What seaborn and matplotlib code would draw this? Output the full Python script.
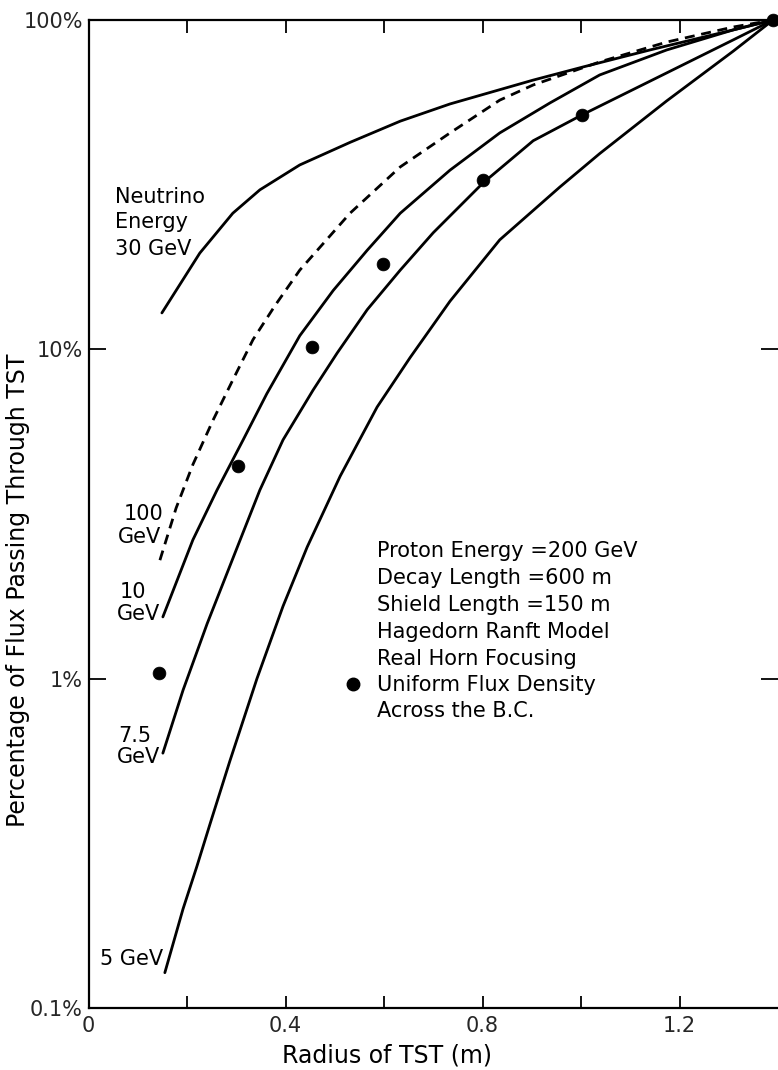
import matplotlib
matplotlib.use("Agg")
import matplotlib.pyplot as plt
import matplotlib.ticker as mticker
import numpy as np
import pandas as pd
import seaborn as sns

# ---------------- data ----------------
# x: radius of TST (m), y: percentage of flux passing through TST (%)
x_30 = [0.149, 0.226, 0.293, 0.348, 0.429, 0.531, 0.633, 0.734, 0.903, 1.004, 1.140, 1.309, 1.39]
y_30 = [12.9, 19.6, 25.9, 30.5, 36.3, 42.5, 49.3, 55.6, 65.7, 72.0, 81.1, 93.3, 100]

x_100 = [0.145, 0.178, 0.212, 0.253, 0.293, 0.334, 0.379, 0.429, 0.531, 0.633, 0.734,
         0.835, 0.903, 1.038, 1.174, 1.309, 1.39]
y_100 = [2.29, 3.30, 4.47, 6.10, 8.07, 10.7, 13.6, 17.4, 25.9, 35.8, 45.4,
         57.1, 63.5, 74.6, 85.7, 95.2, 100]

x_10 = [0.151, 0.212, 0.261, 0.314, 0.362, 0.429, 0.497, 0.566, 0.633, 0.734, 0.835, 0.937,
        1.038, 1.174, 1.309, 1.39]
y_10 = [1.54, 2.64, 3.74, 5.31, 7.33, 11.0, 15.1, 20.0, 25.9, 35.0, 45.4, 56.0,
        68.1, 81.1, 93.3, 100]

x_75 = [0.151, 0.192, 0.241, 0.308, 0.348, 0.395, 0.456, 0.505, 0.566, 0.633, 0.700, 0.801,
        0.903, 1.002, 1.175, 1.309, 1.39]
y_75 = [0.594, 0.923, 1.47, 2.64, 3.74, 5.31, 7.52, 9.75, 13.2, 17.4, 22.6, 32.0,
        43.0, 51.5, 69.2, 87.0, 100]

x_5 = [0.155, 0.192, 0.220, 0.247, 0.287, 0.342, 0.395, 0.444, 0.511, 0.586, 0.653, 0.734,
       0.835, 0.957, 1.038, 1.174, 1.309, 1.39]
y_5 = [0.128, 0.200, 0.269, 0.363, 0.562, 1.00, 1.66, 2.51, 4.12, 6.68, 9.44, 14.0,
       21.5, 31.1, 39.3, 56.8, 80.4, 100]

x_dots = [0.143, 0.304, 0.454, 0.598, 0.801, 1.002, 1.39]
y_dots = [1.04, 4.42, 10.2, 18.2, 32.7, 51.5, 100]

x_tick_pos = [0, 0.2, 0.4, 0.6, 0.8, 1.0, 1.2]
x_tick_lab = ["0", "", "0.4", "", "0.8", "", "1.2"]
y_tick_pos = [0.1, 1, 10, 100]
y_tick_lab = ["0.1%", "1%", "10%", "100%"]

notes = ["Proton Energy =200 GeV", "Decay Length =600 m", "Shield Length =150 m",
         "Hagedorn Ranft Model", "Real Horn Focusing", "Uniform Flux Density",
         "Across the B.C."]

# ---------------- style ----------------
sns.set_theme(style="white")
plt.rcParams["font.family"] = ["DejaVu Sans"]
plt.rcParams["axes.edgecolor"] = "black"

W, H = 778, 1070
fig = plt.figure(figsize=(W / 100, H / 100), dpi=100)
L, R, T, B = 88.5, 778.0, 20.0, 1008.0
ax = fig.add_axes([L / W, 1 - B / H, (R - L) / W, (B - T) / H])

def ax_frac(px, py):
    return (px - L) / (R - L), (B - py) / (B - T)

FS = 15
LW = 2.0

for xs, ys in [(x_30, y_30), (x_10, y_10), (x_75, y_75), (x_5, y_5)]:
    sns.lineplot(x=xs, y=ys, ax=ax, color="black", lw=LW, sort=False,
                 estimator=None, legend=False)

sns.lineplot(x=x_100, y=y_100, ax=ax, color="black", lw=LW, sort=False,
             estimator=None, legend=False)
ax.lines[-1].set_dashes([3.6, 2.4])

sns.scatterplot(x=x_dots, y=y_dots, ax=ax, color="black", s=85, edgecolor="black",
                linewidth=0.5, legend=False, zorder=5, clip_on=False)

ax.set_yscale("log")
ax.set_xlim(0, 1.4)
ax.set_ylim(0.1, 100)

ax.set_xticks(x_tick_pos)
ax.set_xticklabels(x_tick_lab)
ax.set_yticks(y_tick_pos)
ax.set_yticklabels(y_tick_lab)
ax.yaxis.set_minor_locator(mticker.NullLocator())
ax.xaxis.set_minor_locator(mticker.NullLocator())

ax.tick_params(axis="x", which="major", direction="in", top=True, bottom=True,
               length=9, width=1.3, color="black", labelsize=FS, pad=6)
ax.tick_params(axis="y", which="major", direction="in", left=True, right=True,
               length=12, width=1.3, color="black", labelsize=FS, pad=4)
for s in ["left", "bottom", "top"]:
    ax.spines[s].set_linewidth(1.6)
    ax.spines[s].set_color("black")
ax.spines["right"].set_visible(False)
ax.set_xlabel("")
ax.set_ylabel("")
ax.grid(False)

# curve labels
def label(px, py, s, ha="left"):
    fx, fy = ax_frac(px, py)
    ax.text(fx, fy, s, transform=ax.transAxes, fontsize=FS, ha=ha, va="baseline",
            color="black")

label(115, 203, "Neutrino")
label(115, 228, "Energy")
label(115, 255, "30 GeV")
label(163, 520, "100", ha="right")
label(161, 543, "GeV", ha="right")
label(120, 598, "10")
label(160, 620, "GeV", ha="right")
label(118, 742, "7.5")
label(160, 763, "GeV", ha="right")
label(163, 965, "5 GeV", ha="right")

base = [557, 584, 611, 638, 665, 691, 717]
for s, py in zip(notes, base):
    label(377, py, s)
fx, fy = ax_frac(353, 684)
ax.plot([fx], [fy], "o", color="black", ms=9, transform=ax.transAxes, clip_on=False)

fig.text(387 / W, 1 - 1056 / H, "Radius of TST (m)", fontsize=17, ha="center",
         va="center", color="black")
fig.text(18 / W, 1 - 590 / H, "Percentage of Flux Passing Through TST", fontsize=17,
         rotation=90, ha="center", va="center", color="black")

fig.savefig("out.png", dpi=100, facecolor="white")
